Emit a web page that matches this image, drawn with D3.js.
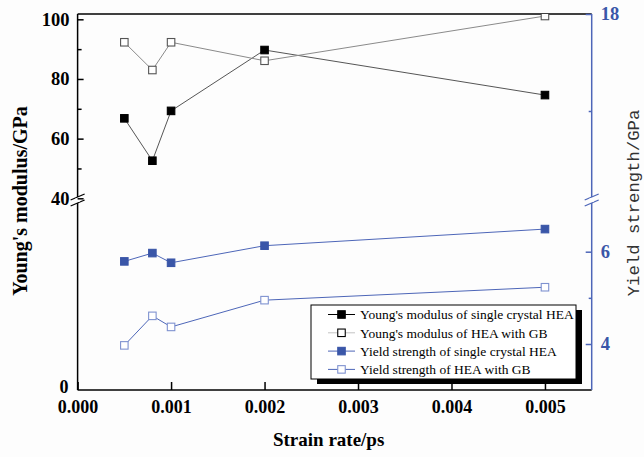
<!DOCTYPE html>
<html>
<head>
<meta charset="utf-8">
<script src="https://cdn.jsdelivr.net/npm/d3@7/dist/d3.min.js"></script>
<style>
  html, body { margin: 0; padding: 0; background: #fdfdfd; }
  svg { display: block; }
</style>
</head>
<body>
<svg id="chart" width="644" height="457"></svg>
<script>
// Strain-rate dependence of Young's modulus and yield strength (single crystal vs. grain boundary HEA)
const strainRate   = [0.0005, 0.0008, 0.001, 0.002, 0.005];
const youngSingle  = [66.8, 52.6, 69.3, 89.7, 74.6];
const youngGB      = [92.3, 83.0, 92.3, 86.1, 101.1];
const yieldSingle  = [5.79, 5.97, 5.76, 6.13, 6.49];
const yieldGB      = [3.97, 4.61, 4.37, 4.95, 5.23];

const xTicks        = [0, 0.001, 0.002, 0.003, 0.004, 0.005];
const leftTopMajor  = [40, 60, 80, 100];
const leftTopMinor  = [50, 70, 90];
const rightTopMajor = [18];
const rightTopMinor = [16];
const rightBotMajor = [4, 6];
const rightBotMinor = [5];

const legendLabels = [
  "Young's modulus of single crystal HEA",
  "Young's modulus of HEA with GB",
  "Yield strength of single crystal HEA",
  "Yield strength of HEA with GB"
];

const BLUE = "#3a56a8";
const BLUE_LINE = "#4d66b8";
const BLUE_OPEN = "#7f92d0";
const SERIF = "'Liberation Serif', 'Times New Roman', serif";

const L = 77.6, R = 591.7, T = 14, B = 390, BREAK = 200;

const svg = d3.select("#chart");

const x = d3.scaleLinear().domain([0, 0.0055]).range([L, R]);
// Left axis: upper segment carries Young's modulus, lower segment only the origin
const yLT = d3.scaleLinear().domain([40, 100]).range([198.3, 19.3]);
const yLB = d3.scaleLinear().domain([0, 40]).range([B, BREAK]);
// Right axis: upper segment (break above the yield data) and lower segment with the yield strength
const yRT = d3.scaleLinear().domain([16, 18]).range([111, T]);
const yRB = d3.scaleLinear().domain([4, 6]).range([344, 251.7]);

// ---- frame lines ----
const frame = svg.append("g");
frame.append("line").attr("x1", L).attr("x2", R).attr("y1", T).attr("y2", T)
  .attr("stroke", "#000").attr("stroke-width", 1.5);
frame.append("line").attr("x1", L).attr("x2", R).attr("y1", B).attr("y2", B)
  .attr("stroke", "#000").attr("stroke-width", 1.5);
// left axis (broken)
frame.append("line").attr("x1", L).attr("x2", L).attr("y1", T).attr("y2", BREAK - 3)
  .attr("stroke", "#000").attr("stroke-width", 1.5);
frame.append("line").attr("x1", L).attr("x2", L).attr("y1", BREAK + 3).attr("y2", B)
  .attr("stroke", "#000").attr("stroke-width", 1.5);
// right axis (broken)
frame.append("line").attr("x1", R).attr("x2", R).attr("y1", T).attr("y2", BREAK - 3)
  .attr("stroke", BLUE_LINE).attr("stroke-width", 1.5);
frame.append("line").attr("x1", R).attr("x2", R).attr("y1", BREAK + 3).attr("y2", B)
  .attr("stroke", BLUE_LINE).attr("stroke-width", 1.5);

// break marks
function breakMarks(cx, color) {
  [-3, 3].forEach(dy => {
    frame.append("line")
      .attr("x1", cx - 7).attr("y1", BREAK + dy + 3)
      .attr("x2", cx + 7).attr("y2", BREAK + dy - 3)
      .attr("stroke", color).attr("stroke-width", 1.3);
  });
  frame.append("rect").attr("x", cx - 2).attr("y", BREAK - 2).attr("width", 4).attr("height", 4)
    .attr("fill", "#fdfdfd");
}
breakMarks(L, "#000");
breakMarks(R, BLUE_LINE);

// ---- axes ----
function styleAxis(g, color, size, weight) {
  g.select(".domain").remove();
  g.selectAll(".tick line").attr("stroke", color).attr("stroke-width", 1.5);
  g.selectAll(".tick text").attr("fill", color)
    .style("font-family", SERIF).style("font-size", size + "px").style("font-weight", weight);
}

const xAxis = svg.append("g").attr("transform", `translate(0,${B})`)
  .call(d3.axisBottom(x).tickValues(xTicks).tickFormat(d3.format(".3f")).tickSize(-8).tickPadding(9));
styleAxis(xAxis, "#000", 18, "bold");
xAxis.selectAll(".tick text").attr("dy", "0.75em");

const ltMaj = svg.append("g").attr("transform", `translate(${L},0)`)
  .call(d3.axisLeft(yLT).tickValues(leftTopMajor).tickFormat(d3.format("d")).tickSize(-6).tickPadding(8));
styleAxis(ltMaj, "#000", 18.5, "bold");
const ltMin = svg.append("g").attr("transform", `translate(${L},0)`)
  .call(d3.axisLeft(yLT).tickValues(leftTopMinor).tickFormat("").tickSize(-4));
styleAxis(ltMin, "#000", 18, "bold");

const lbMaj = svg.append("g").attr("transform", `translate(${L},0)`)
  .call(d3.axisLeft(yLB).tickValues([0]).tickFormat(d3.format("d")).tickSize(0).tickPadding(9));
styleAxis(lbMaj, "#000", 18, "bold");
lbMaj.selectAll(".tick text").attr("dy", "0.15em");

const rtMaj = svg.append("g").attr("transform", `translate(${R},0)`)
  .call(d3.axisRight(yRT).tickValues(rightTopMajor).tickFormat(d3.format("d")).tickSize(-6).tickPadding(9));
styleAxis(rtMaj, BLUE, 18.5, "bold");
rtMaj.selectAll(".tick line").attr("stroke", BLUE_LINE);
const rtMin = svg.append("g").attr("transform", `translate(${R},0)`)
  .call(d3.axisRight(yRT).tickValues(rightTopMinor).tickFormat("").tickSize(-3));
styleAxis(rtMin, BLUE_LINE, 18, "bold");

const rbMaj = svg.append("g").attr("transform", `translate(${R},0)`)
  .call(d3.axisRight(yRB).tickValues(rightBotMajor).tickFormat(d3.format("d")).tickSize(-6).tickPadding(9));
styleAxis(rbMaj, BLUE, 18.5, "bold");
rbMaj.selectAll(".tick line").attr("stroke", BLUE_LINE);
const rbMin = svg.append("g").attr("transform", `translate(${R},0)`)
  .call(d3.axisRight(yRB).tickValues(rightBotMinor).tickFormat("").tickSize(-3));
styleAxis(rbMin, BLUE_LINE, 18, "bold");

// ---- titles ----
svg.append("text")
  .attr("transform", `translate(${(L + R) / 2 - 6},446) `)
  .attr("text-anchor", "middle")
  .style("font-family", SERIF).style("font-size", "19px").style("font-weight", "bold")
  .text("Strain rate/ps");

svg.append("text")
  .attr("transform", "translate(27,201) rotate(-90)")
  .attr("text-anchor", "middle")
  .style("font-family", SERIF).style("font-size", "20px").style("font-weight", "bold")
  .text("Young's modulus/GPa");

svg.append("text")
  .attr("transform", "translate(639,203) rotate(-90)")
  .attr("text-anchor", "middle")
  .attr("fill", "#333")
  .style("font-family", "'Liberation Mono', 'DejaVu Sans Mono', monospace").style("font-size", "17.3px")
  .text("Yield strength/GPa");

// ---- series ----
svg.append("clipPath").attr("id", "plotClip")
  .append("rect").attr("x", L).attr("y", T).attr("width", R - L).attr("height", B - T);

const plot = svg.append("g").attr("clip-path", "url(#plotClip)");

const series = [
  { vals: youngSingle, y: yLT, line: "#555", stroke: "#000", fill: "#000" },
  { vals: youngGB,     y: yLT, line: "#8a8a8a", stroke: "#555", fill: "#fff" },
  { vals: yieldSingle, y: yRB, line: BLUE_LINE, stroke: BLUE, fill: BLUE },
  { vals: yieldGB,     y: yRB, line: BLUE_LINE, stroke: BLUE_OPEN, fill: "#fff" }
];

const MS = 7.5;
series.forEach(s => {
  const pts = strainRate.map((r, i) => [x(r), s.y(s.vals[i])]);
  plot.append("path")
    .attr("d", d3.line()(pts))
    .attr("fill", "none").attr("stroke", s.line).attr("stroke-width", 1);
  plot.selectAll(null).data(pts).enter().append("rect")
    .attr("x", d => d[0] - MS / 2).attr("y", d => d[1] - MS / 2)
    .attr("width", MS).attr("height", MS)
    .attr("fill", s.fill).attr("stroke", s.stroke).attr("stroke-width", 1.1);
});

// ---- legend ----
const lg = svg.append("g");
const LX = 311, LY = 305, LW = 265, LH = 74;
lg.append("rect").attr("x", LX + 6).attr("y", LY + 5).attr("width", LW).attr("height", LH).attr("fill", "#000");
lg.append("rect").attr("x", LX).attr("y", LY).attr("width", LW).attr("height", LH)
  .attr("fill", "#fff").attr("stroke", "#000").attr("stroke-width", 1);

const legendLine = ["#000", "#c4c4c4", BLUE_LINE, BLUE_LINE];
legendLabels.forEach((label, i) => {
  const cy = LY + 9.5 + i * 18.3;
  lg.append("line").attr("x1", LX + 17).attr("x2", LX + 44).attr("y1", cy).attr("y2", cy)
    .attr("stroke", legendLine[i]).attr("stroke-width", 1);
  lg.append("rect").attr("x", LX + 30.5 - MS / 2).attr("y", cy - MS / 2).attr("width", MS).attr("height", MS)
    .attr("fill", series[i].fill).attr("stroke", i === 1 ? "#000" : series[i].stroke).attr("stroke-width", 1.1);
  lg.append("text").attr("x", LX + 49).attr("y", cy).attr("dy", "0.35em")
    .style("font-family", SERIF).style("font-size", "13.5px")
    .text(label);
});
</script>
</body>
</html>
